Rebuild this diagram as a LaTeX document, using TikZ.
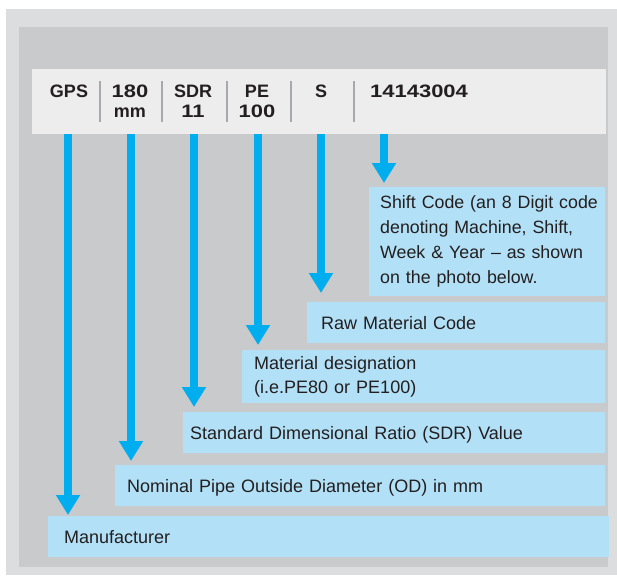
\documentclass[tikz,border=0pt]{standalone}
\usepackage{fontspec}
\setmainfont{Liberation Sans}
\usetikzlibrary{arrows.meta}
\definecolor{outerg}{HTML}{DCDDDF}
\definecolor{innerg}{HTML}{C9CACC}
\definecolor{bandg}{HTML}{EDEDED}
\definecolor{boxblue}{HTML}{B2E0F6}
\definecolor{arrowblue}{HTML}{00AEEF}
\definecolor{txt}{HTML}{231F20}
\definecolor{divg}{HTML}{A8A9AC}
\newcommand{\wdig}[1]{\scalebox{1.22}[1]{#1}}
\begin{document}
\begin{tikzpicture}[x=1pt,y=-1pt,
  hdr/.style={anchor=base,inner sep=0pt,text=txt,font=\fontsize{18}{22}\selectfont\bfseries},
  boxn/.style={rectangle,fill=boxblue,anchor=north west,align=left,inner ysep=0pt,text=txt,
    font=\fontsize{18}{25}\selectfont},
  one/.style={text height=13pt,text depth=0pt},
  arr/.style={draw=arrowblue,line width=7.5pt,-{Triangle[width=23pt,length=20pt]},arrowblue},
  divline/.style={draw=divg,line width=1.8pt}]
\useasboundingbox (0,0) rectangle (617,575);
\fill[outerg] (6,9) rectangle (617,575);
\fill[innerg] (19,27) rectangle (608,567);

% arrow starting points
\coordinate (aGPS) at (68,130);
\coordinate (a180) at (131,130);
\coordinate (aSDR) at (194,130);
\coordinate (aPE) at (258,130);
\coordinate (aS) at (321,130);
\coordinate (aNum) at (384,130);

% boxes
\node[boxn,font=\fontsize{17.8}{25}\selectfont,minimum width=236pt,minimum height=109pt,inner xsep=11pt,text width=214pt] (shift) at (369,187)
  {\mbox{Shift Code (an 8 Digit code}\\\mbox{denoting Machine, Shift,}\\\mbox{Week \& Year -- as shown}\\\mbox{on the photo below.}};
\node[boxn,one,minimum width=298pt,minimum height=41pt,inner xsep=14pt,text width=270pt] (raw) at (307,302)
  {Raw Material Code};
\node[boxn,font=\fontsize{18}{24}\selectfont,minimum width=363pt,minimum height=53pt,inner xsep=12pt,text width=339pt] (mat) at (242,350)
  {Material designation\\(i.e.PE80 or PE100)};
\node[boxn,one,minimum width=422pt,minimum height=41pt,inner xsep=7pt,text width=408pt] (sdr) at (183,412)
  {Standard Dimensional Ratio (SDR) Value};
\node[boxn,one,minimum width=490pt,minimum height=41pt,inner xsep=12pt,text width=466pt] (nom) at (115,465)
  {Nominal Pipe Outside Diameter (OD) in mm};
\node[boxn,one,minimum width=561pt,minimum height=41pt,inner xsep=16pt,text width=529pt] (man) at (48,516)
  {Manufacturer};

% arrows
\draw[arr,shorten >=1pt] (aGPS) -- (aGPS |- man.north);
\draw[arr,shorten >=4pt] (a180) -- (a180 |- nom.north);
\draw[arr,shorten >=5pt] (aSDR) -- (aSDR |- sdr.north);
\draw[arr,shorten >=5pt] (aPE) -- (aPE |- mat.north);
\draw[arr,shorten >=9pt] (aS) -- (aS |- raw.north);
\draw[arr,shorten >=4pt] (aNum) -- (aNum |- shift.north);

% header band
\fill[bandg] (32,69) rectangle (606,134);
\node[hdr] (gps) at (69,97) {GPS};
\node[hdr] (d180) at (130,97) {\wdig{180}};
\node[hdr] (dmm) at (130,117) {mm};
\node[hdr] (sdrl) at (193,97) {SDR};
\node[hdr] (d11) at (193,117) {\wdig{11}};
\node[hdr] (pel) at (257,97) {PE};
\node[hdr] (d100) at (257,117) {\wdig{100}};
\node[hdr] (sl) at (321,97) {S};
\node[hdr,anchor=base west] (num) at (370,97) {\wdig{14143004}};
\foreach \x in {100,162,227,291,354}
  \draw[divline] (\x,81) -- (\x,122);
\end{tikzpicture}
\end{document}
